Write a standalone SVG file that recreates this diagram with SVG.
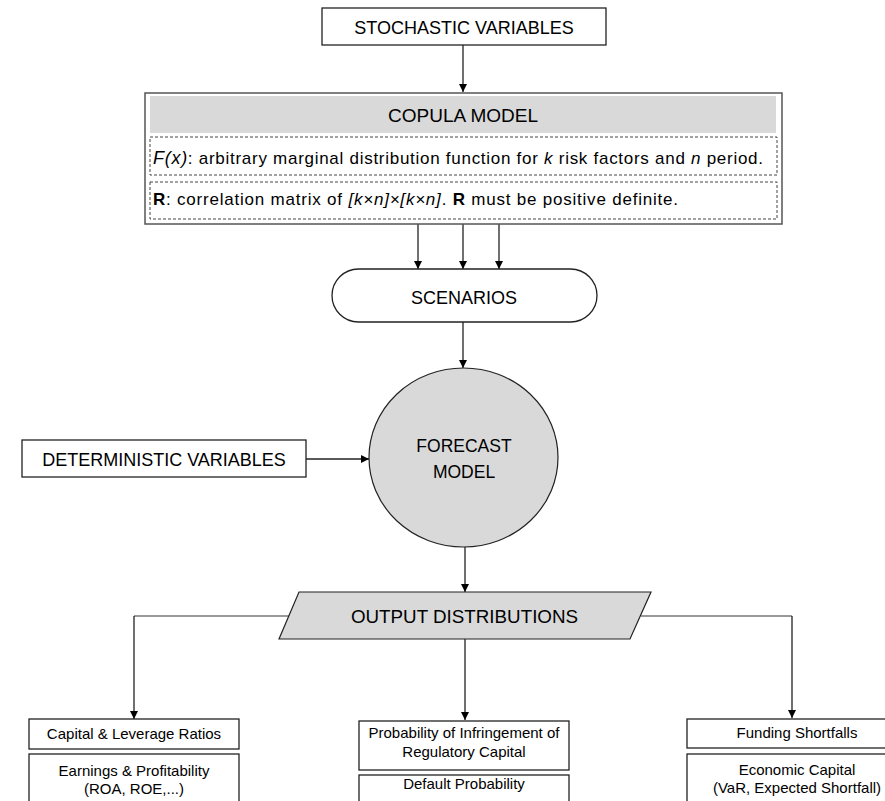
<svg xmlns="http://www.w3.org/2000/svg" width="885" height="801" viewBox="0 0 885 801">
  <defs>
    <marker id="arr" viewBox="0 0 10 10" refX="10" refY="5" markerWidth="8" markerHeight="8" markerUnits="userSpaceOnUse" orient="auto">
      <path d="M0,0 L10,5 L0,10 Z" fill="#000"/>
    </marker>
    <style>
      text { font-family: "Liberation Sans", Arial, sans-serif; fill: #000; }
      .box { fill: #fff; stroke: #222; stroke-width: 1.3; }
      .gray { fill: #d9d9d9; stroke: #222; stroke-width: 1.2; }
      .dash { fill: none; stroke: #444; stroke-width: 1; stroke-dasharray: 3 2; }
      .big { font-size: 18px; text-anchor: middle; }
      .small { font-size: 15px; text-anchor: middle; }
      .body { font-size: 17px; }
      .conn { fill: none; stroke: #222; stroke-width: 1.3; }
      .arr { marker-end: url(#arr); }
      .hline { fill: none; stroke: #777; stroke-width: 1.5; }
    </style>
  </defs>
  <rect width="885" height="801" fill="#fff"/>

  <g id="connectors">
    <line class="conn arr" x1="463" y1="45" x2="463" y2="92"/>
    <line class="conn arr" x1="418" y1="224" x2="418" y2="269"/>
    <line class="conn arr" x1="463" y1="224" x2="463" y2="269"/>
    <line class="conn arr" x1="499" y1="224" x2="499" y2="269"/>
    <line class="conn arr" x1="463" y1="322" x2="463" y2="368"/>
    <line class="conn arr" x1="306" y1="459" x2="369" y2="459"/>
    <line class="conn arr" x1="465" y1="547" x2="465" y2="592"/>
    <line class="conn arr" x1="465" y1="639" x2="465" y2="720"/>
    <path class="hline" d="M289,616 H134"/>
    <path class="conn arr" d="M134,616 V719"/>
    <path class="hline" d="M641,616 H792"/>
    <path class="conn arr" d="M792,616 V718"/>
  </g>

  <g id="stochastic">
    <rect class="box" x="322" y="8" width="284" height="37"/>
    <text class="big" x="464" y="34" font-size="17.5">STOCHASTIC VARIABLES</text>
  </g>

  <g id="copula">
    <rect x="145" y="93" width="637" height="131" fill="#fff" stroke="#555" stroke-width="1.5"/>
    <rect x="150" y="96" width="626" height="37" fill="#d9d9d9"/>
    <text class="big" x="463" y="122" style="font-size:19px">COPULA MODEL</text>
    <rect class="dash" x="150" y="137" width="627" height="38"/>
    <text class="body" x="153" y="164" textLength="610"><tspan font-style="italic" font-size="18">F(x)</tspan>: arbitrary marginal distribution function for <tspan font-style="italic">k</tspan> risk factors and <tspan font-style="italic">n</tspan> period.</text>
    <rect class="dash" x="150" y="182" width="627" height="37"/>
    <text class="body" x="153" y="205" textLength="525"><tspan font-weight="bold">R</tspan>: correlation matrix of <tspan font-style="italic">[k×n]×[k×n]</tspan>. <tspan font-weight="bold">R</tspan> must be positive definite.</text>
  </g>

  <g id="scenarios">
    <rect class="box" x="332" y="269" width="265" height="53" rx="26.5" ry="26.5"/>
    <text class="big" x="464" y="304">SCENARIOS</text>
  </g>

  <g id="forecast">
    <ellipse class="gray" cx="463.5" cy="457.5" rx="94.5" ry="89.5"/>
    <text class="big" x="464" y="452" style="font-size:17.5px">FORECAST</text>
    <text class="big" x="464" y="478" style="font-size:17.5px">MODEL</text>
  </g>

  <g id="deterministic">
    <rect class="box" x="22" y="440" width="284" height="37"/>
    <text class="big" x="164" y="466">DETERMINISTIC VARIABLES</text>
  </g>

  <g id="output">
    <polygon class="gray" points="299,592 651,592 630,639 279,639"/>
    <text class="big" x="464.5" y="623" style="font-size:18.8px">OUTPUT DISTRIBUTIONS</text>
  </g>

  <g id="capital">
    <rect class="box" x="29" y="719" width="210" height="30"/>
    <text class="small" x="134" y="739">Capital &amp; Leverage Ratios</text>
  </g>
  <g id="earnings">
    <rect class="box" x="29" y="754" width="210" height="60"/>
    <text class="small" x="134" y="776">Earnings &amp; Profitability</text>
    <text class="small" x="134" y="794">(ROA, ROE,...)</text>
  </g>

  <g id="infringement">
    <rect class="box" x="359" y="721" width="210" height="49"/>
    <text class="small" x="464" y="738">Probability of Infringement of</text>
    <text class="small" x="464" y="757">Regulatory Capital</text>
  </g>
  <g id="default">
    <rect class="box" x="359" y="775" width="210" height="40"/>
    <text class="small" x="464" y="789">Default Probability</text>
  </g>

  <g id="funding">
    <rect class="box" x="687" y="719" width="220" height="29"/>
    <text class="small" x="797" y="738">Funding Shortfalls</text>
  </g>
  <g id="economic">
    <rect class="box" x="687" y="754" width="220" height="60"/>
    <text class="small" x="797" y="775">Economic Capital</text>
    <text class="small" x="797" y="793">(VaR, Expected Shortfall)</text>
  </g>
</svg>
